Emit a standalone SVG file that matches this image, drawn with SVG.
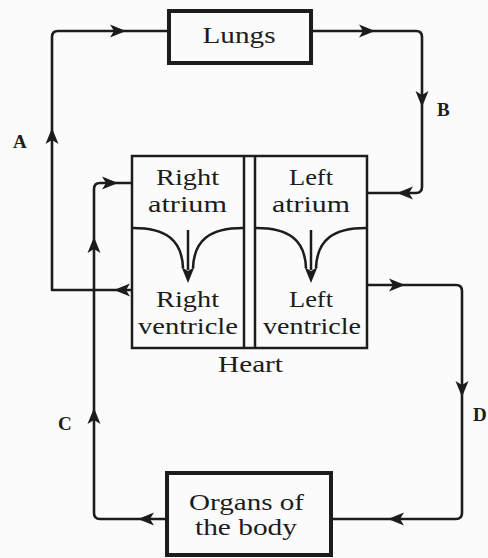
<svg xmlns="http://www.w3.org/2000/svg" xmlns:xlink="http://www.w3.org/1999/xlink" width="488" height="558" viewBox="0 0 488 558">
  <style>
    .box { fill: none; stroke: #1c1c1c; stroke-width: 4; }
    .heart { fill: none; stroke: #1c1c1c; stroke-width: 2.5; }
    .conn { fill: none; stroke: #1c1c1c; stroke-width: 2.6; stroke-linejoin: round; }
    .t { font-family: "Liberation Serif", "Times New Roman", serif; font-size: 24px; fill: #1c1c1c; text-anchor: middle; }
    .lbl { font-family: "Liberation Serif", "Times New Roman", serif; font-size: 19px; font-weight: bold; fill: #1c1c1c; }
    .ah { fill: #1c1c1c; }
  </style>
  <defs>
    <path id="ah" class="ah" d="M0,0 L-16,-6.5 L-12,0 L-16,6.5 Z"/>
  </defs>
  <rect width="488" height="558" fill="#fbfbfb"/>

  <g id="connectors">
    <!-- A: right ventricle to lungs -->
    <path class="conn" d="M132,290 H52 V37 Q52,31 58,31 H169"/>
    <use xlink:href="#ah" transform="translate(114,290) rotate(180)"/>
    <use xlink:href="#ah" transform="translate(52,128) rotate(-90)"/>
    <use xlink:href="#ah" transform="translate(126,31)"/>
    <!-- B: lungs to left atrium -->
    <path class="conn" d="M311,31 H416 Q422,31 422,37 V187 Q422,193 416,193 H367"/>
    <use xlink:href="#ah" transform="translate(375,31)"/>
    <use xlink:href="#ah" transform="translate(422,107) rotate(90)"/>
    <use xlink:href="#ah" transform="translate(397,193) rotate(180)"/>
    <!-- D: left ventricle to organs -->
    <path class="conn" d="M367,285 H456 Q462,285 462,291 V513 Q462,519 456,519 H331"/>
    <use xlink:href="#ah" transform="translate(405,285)"/>
    <use xlink:href="#ah" transform="translate(462,397) rotate(90)"/>
    <use xlink:href="#ah" transform="translate(388,519) rotate(180)"/>
    <!-- C: organs to right atrium -->
    <path class="conn" d="M167,519 H100 Q94,519 94,513 V189 Q94,183 100,183 H132"/>
    <use xlink:href="#ah" transform="translate(138,519) rotate(180)"/>
    <use xlink:href="#ah" transform="translate(94,408) rotate(-90)"/>
    <use xlink:href="#ah" transform="translate(94,237) rotate(-90)"/>
    <use xlink:href="#ah" transform="translate(118,183)"/>
  </g>

  <g id="lungs">
    <rect class="box" x="169" y="11" width="142" height="52"/>
    <text class="t" x="239" y="43" textLength="73" lengthAdjust="spacingAndGlyphs">Lungs</text>
  </g>

  <g id="heart">
    <rect class="heart" x="132" y="156" width="235" height="192"/>
    <line class="heart" x1="244" y1="156" x2="244" y2="348"/>
    <line class="heart" x1="255" y1="156" x2="255" y2="348"/>
    <text class="t" x="250.5" y="372" textLength="65" lengthAdjust="spacingAndGlyphs">Heart</text>
  </g>

  <g id="right-atrium">
    <text class="t" x="187.5" y="185" textLength="63" lengthAdjust="spacingAndGlyphs">Right</text>
    <text class="t" x="187.5" y="212" textLength="79" lengthAdjust="spacingAndGlyphs">atrium</text>
    <path class="heart" d="M133,228 C166,228 182,240 183,268"/>
    <path class="heart" d="M243,228 C210,228 194,240 193,268"/>
    <line class="heart" x1="188" y1="230" x2="188" y2="270"/>
    <use xlink:href="#ah" transform="translate(188,283) rotate(90)"/>
  </g>

  <g id="right-ventricle">
    <text class="t" x="187.5" y="307" textLength="63" lengthAdjust="spacingAndGlyphs">Right</text>
    <text class="t" x="188" y="334" textLength="100" lengthAdjust="spacingAndGlyphs">ventricle</text>
  </g>

  <g id="left-atrium">
    <text class="t" x="311" y="185" textLength="44" lengthAdjust="spacingAndGlyphs">Left</text>
    <text class="t" x="311" y="212" textLength="78" lengthAdjust="spacingAndGlyphs">atrium</text>
    <path class="heart" d="M256,228 C289,228 305,240 306,268"/>
    <path class="heart" d="M366,228 C333,228 317,240 316,268"/>
    <line class="heart" x1="311" y1="230" x2="311" y2="270"/>
    <use xlink:href="#ah" transform="translate(311,283) rotate(90)"/>
  </g>

  <g id="left-ventricle">
    <text class="t" x="311" y="307" textLength="44" lengthAdjust="spacingAndGlyphs">Left</text>
    <text class="t" x="312" y="334" textLength="98" lengthAdjust="spacingAndGlyphs">ventricle</text>
  </g>

  <g id="organs">
    <rect class="box" x="167" y="473" width="164" height="82"/>
    <text class="t" x="246.5" y="510" textLength="115" lengthAdjust="spacingAndGlyphs">Organs of</text>
    <text class="t" x="246" y="535" textLength="102" lengthAdjust="spacingAndGlyphs">the body</text>
  </g>

  <g id="labels">
    <text class="lbl" x="13" y="148">A</text>
    <text class="lbl" x="437" y="116">B</text>
    <text class="lbl" x="58" y="430">C</text>
    <text class="lbl" x="473" y="421">D</text>
  </g>
</svg>
